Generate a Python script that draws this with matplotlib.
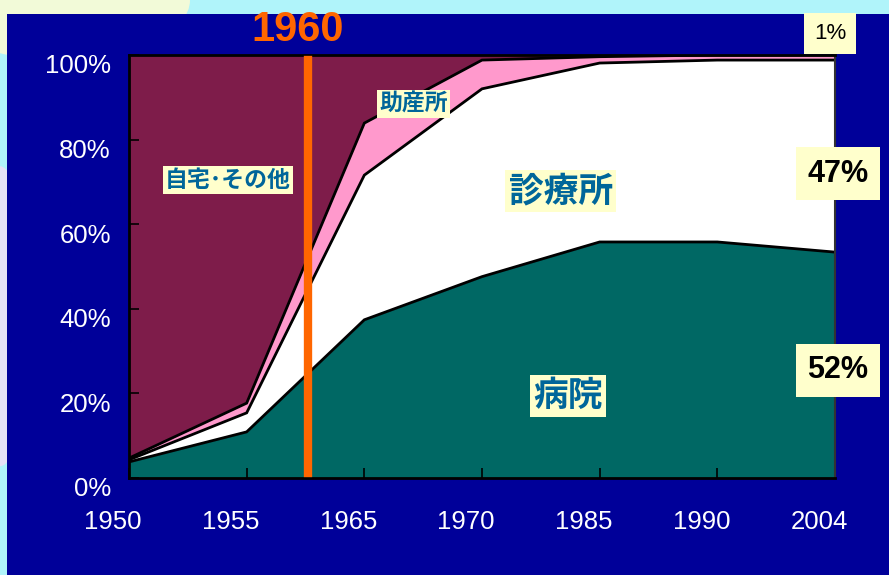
import matplotlib
matplotlib.use("Agg")
import matplotlib.pyplot as plt
import matplotlib.transforms as mtransforms
from matplotlib.patches import Rectangle, Ellipse
import numpy as np

# ---- data (percent shares, stacked bottom -> top) ----
years = ["1950", "1955", "1965", "1970", "1985", "1990", "2004"]
hospital = [3.8, 10.9, 37.4, 47.6, 55.8, 55.8, 53.4]     # 病院
clinic = [0.5, 4.5, 34.2, 44.4, 42.3, 43.0, 45.4]        # 診療所
midwife = [0.4, 2.3, 12.3, 6.8, 1.5, 1.2, 1.2]           # 助産所
home = [95.3, 82.3, 16.1, 1.2, 0.4, 0.0, 0.0]            # 自宅・その他
yticks = [0, 20, 40, 60, 80, 100]
ytick_labels = ["0%", "20%", "40%", "60%", "80%", "100%"]
marker_year = 1.52  # position of the 1960 line between 1955 and 1965

NAVY = "#000099"
CYAN = "#B0F4FA"
TEAL = "#006864"
PINK = "#FF99CC"
MAROON = "#7E1C4A"
ORANGE = "#FF6600"
LBL = "#00669A"
BOX = "#FFFFCC"

W, H = 889, 575
fig = plt.figure(figsize=(W / 100, H / 100), dpi=100)
fig.patch.set_facecolor(CYAN)

# faint decorative shapes on the cyan background
fig.patches.append(Ellipse((60 / W, 1.0), 260 / W, 120 / H, transform=fig.transFigure,
                           facecolor="#F2FAD8", edgecolor="none", zorder=0))
fig.patches.append(Ellipse((0.0, 0.45), 60 / W, 300 / H, transform=fig.transFigure,
                           facecolor="#E6E2F6", edgecolor="none", zorder=0))
# navy panel
fig.patches.append(Rectangle((7 / W, 0), 1 - 7 / W, (H - 14) / H, transform=fig.transFigure,
                             facecolor=NAVY, edgecolor="none", zorder=1))

ax = fig.add_axes([129 / W, (H - 478) / H, (835 - 129) / W, (478 - 55) / H])
ax.set_zorder(2)
x = np.arange(len(years))
h = np.array(hospital)
c = h + np.array(clinic)
m = c + np.array(midwife)
t = m + np.array(home)

ax.fill_between(x, 0, h, color=TEAL, lw=0)
ax.fill_between(x, h, c, color="white", lw=0)
ax.fill_between(x, c, m, color=PINK, lw=0)
ax.fill_between(x, m, t, color=MAROON, lw=0)
for top in (h, c, m):
    ax.plot(x, top, color="black", lw=2.0, solid_joinstyle="miter")

ax.axvline(marker_year, ymin=0.012, ymax=0.988, color=ORANGE, lw=6, zorder=5)

ax.set_xlim(0, len(years) - 1)
ax.set_ylim(0, 100)
for s in ax.spines.values():
    s.set_color("black")
    s.set_linewidth(2.0)
ax.spines["right"].set_color("#333333")
ax.spines["right"].set_linewidth(1.5)

ax.set_xticks(x)
ax.set_xticklabels(years)
ax.set_yticks(yticks)
ax.set_yticklabels(ytick_labels)
ax.tick_params(axis="both", direction="in", length=7, width=1.2, color="black",
               labelcolor="white", labelsize=18.5)
ax.tick_params(axis="x", pad=23)
ax.tick_params(axis="y", pad=13)
for lab in ax.get_xticklabels() + ax.get_yticklabels():
    lab.set_fontfamily("Liberation Sans")
dx = mtransforms.ScaledTranslation(-0.16, 0, fig.dpi_scale_trans)
for lab in ax.get_xticklabels():
    lab.set_transform(lab.get_transform() + dx)
dy = mtransforms.ScaledTranslation(0, -0.09, fig.dpi_scale_trans)
for lab in ax.get_yticklabels():
    lab.set_transform(lab.get_transform() + dy)

cjk = ["Noto Sans CJK JP", "DejaVu Sans"]
def lbl(xx, yy, s, size):
    ax.text(xx, yy, s, ha="center", va="center", fontsize=size, fontweight="bold",
            color=LBL, family=cjk, zorder=6,
            bbox=dict(boxstyle="square,pad=0.1", fc=BOX, ec="none"))

lbl(0.84, 70.4, "自宅･その他", 16.5)
lbl(2.42, 88.4, "助産所", 16.5)
lbl(3.67, 67.8, "診療所", 25)
lbl(3.73, 19.4, "病院", 25)

ax.text(1.43, 105.9, "1960", ha="center", va="center", fontsize=30, fontweight="bold",
        color=ORANGE, family="Liberation Sans", clip_on=False, zorder=6)

def pct(xa, yy, s, size, weight, pad):
    ax.text(xa, yy, s, transform=ax.get_yaxis_transform(), ha="center", va="center",
            fontsize=size, fontweight=weight, color="black", family="Liberation Sans",
            clip_on=False, zorder=7,
            bbox=dict(boxstyle=f"square,pad={pad}", fc=BOX, ec="none"))

pct(1.004, 71.9, "47%", 22, "bold", 0.38)
pct(1.004, 25.5, "52%", 22, "bold", 0.38)
pct(0.993, 105.2, "1%", 16, "normal", 0.45)

fig.savefig("out.png", dpi=100, facecolor=fig.get_facecolor())
